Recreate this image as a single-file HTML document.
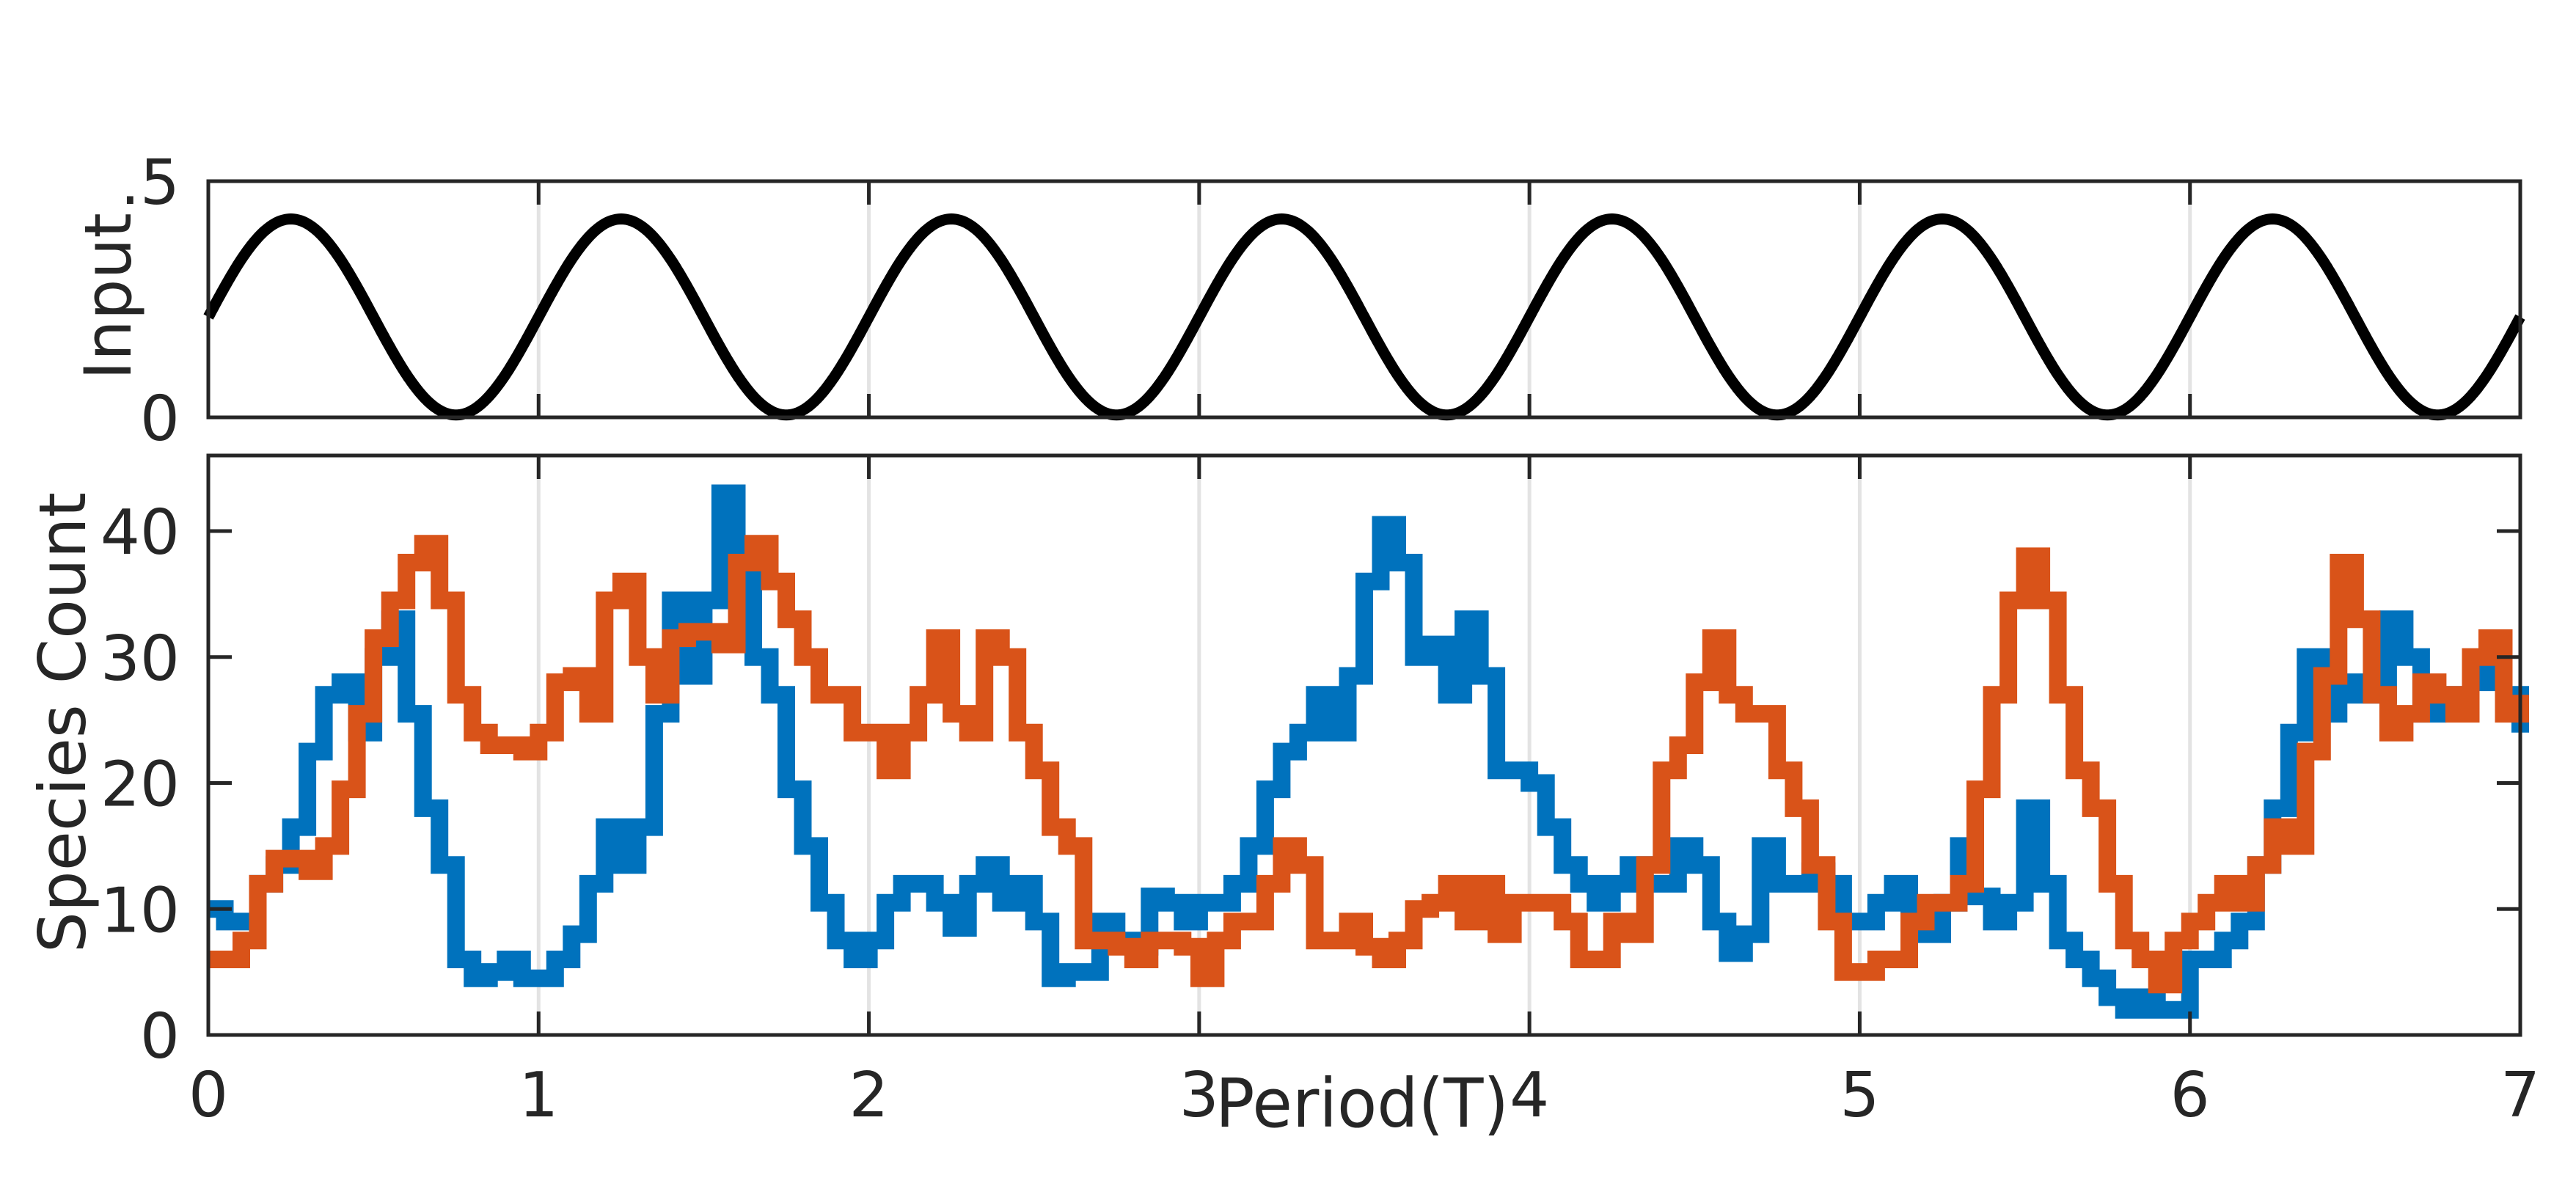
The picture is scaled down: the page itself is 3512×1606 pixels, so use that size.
<!DOCTYPE html>
<html><head><meta charset="utf-8"><style>
html,body{margin:0;padding:0;background:#fff;}
svg{display:block;font-family:"DejaVu Sans","Liberation Sans",sans-serif;}
</style></head><body>
<svg id="fig" width="3512" height="1606" viewBox="0 0 3512 1606">
<rect width="3512" height="1606" fill="#fff"/>
<g id="topPanel"></g>
<g id="botPanel"></g>
<text x="178" y="404" font-size="88" fill="#262626" text-anchor="middle" transform="rotate(-90 178 404)">Input</text>
<text x="116" y="985" font-size="88" fill="#262626" text-anchor="middle" transform="rotate(-90 116 985)">Species Count</text>
<text x="1857" y="1536" font-size="92" fill="#262626" text-anchor="middle" textLength="400" lengthAdjust="spacingAndGlyphs">Period(T)</text>
</svg>
<script>
const xTicks=[0,1,2,3,4,5,6,7];
const xTickLabels=["0","1","2","3","4","5","6","7"];
const botYTicks=[0,10,20,30,40];
const botYTickLabels=["0","10","20","30","40"];
const topYTicks=[0,0.5];
const topYTickLabels=["0",".5"];
const inputOffset=0.2125;
const inputAmplitude=0.2075;
const inputPeriods=7;
const sampleStep=0.05;
const blueCounts=[10,9,9,12,13.5,16.5,22.5,27,28,24,30,33,25.5,18,13.5,6,4.5,5,6,4.5,
4.5,6,8,12,16.5,13.5,16.5,25.5,34.5,28.5,34.5,43,37.5,30,27,19.5,15,10.5,7.5,6,
7.5,10.5,12,12,10.5,8.5,12,13.5,10.5,12,9,4.5,5,5,9,7.5,7,11,10.5,9,
10.5,10.5,12,15,19.5,22.5,24,27,24,28.5,36,40.5,37.5,30,31,27,33,28.5,21,21,
20,16.5,13.5,12,10.5,12,13.5,12,12,15,13.5,9,6.5,8,15,12,12,13,12,9,
9,10.5,12,9,8,10.5,15,11,9,10.5,18,12,7.5,6,4.5,3,2,3,2,2,
6,6,7.5,9,13.5,18,24,30,25.5,28,27,27,33,30,25.5,27,27,28,31.5,27,24];
const orangeCounts=[6,6,7.5,12,14,14,13,15,19.5,25.5,31.5,34.5,37.5,39,34.5,27,24,23,23,22.5,
24,28,28.5,25.5,34.5,36,30,27,31.5,32,32,31,37.5,39,36,33,30,27,27,24,
24,21,24,27,31.5,25.5,24,31.5,30,24,21,16.5,15,7.5,7.5,7,6,7.5,7.5,7,
4.5,7.5,9,9,12,15,13.5,7.5,7.5,9,7,6,7.5,10,10.5,12,9,12,8,10.5,
10.5,10.5,9,6,6,9,8,13.5,21,23,28,31.5,27,25.5,25.5,21,18,13.5,9,5,
5,6,6,9,10.5,10.5,12,19.5,27,34.5,38,34.5,27,21,18,12,7.5,6,4,7.5,
9,10.5,12,10.5,13.5,16.5,15,22.5,28.5,37.5,33,27,24,25.5,28,27,25.5,30,31.5,25.5,27];

const NS='http://www.w3.org/2000/svg';
const L=284,R=3436;
const TT=247,TB=569,BT=621,BB=1411;
const xMax=7,topYMax=0.5,botYMax=46;
function xs(t){return L+(R-L)*t/xMax;}
function yTop(v){return TB-(TB-TT)*v/topYMax;}
function yBot(v){return BB-(BB-BT)*v/botYMax;}
function mk(tag,attrs,parent){const e=document.createElementNS(NS,tag);for(const k in attrs)e.setAttribute(k,attrs[k]);parent.appendChild(e);return e;}

function grid(g,T,B,prefix){
  xTicks.forEach((t,i)=>{
    if(t>0&&t<xMax){
      const gl=mk('line',{x1:xs(t),x2:xs(t),y1:T,y2:B,stroke:'#e3e3e3','stroke-width':5},g);
      
      
    }
  });
}
function frame(g,T,B,yfn,yt,ytl,prefix,showX){
  const ax=mk('rect',{x:L,y:T,width:R-L,height:B-T,fill:'none',stroke:'#262626','stroke-width':5},g);
  
  
  xTicks.forEach((t,i)=>{
    const a=mk('line',{x1:xs(t),x2:xs(t),y1:B,y2:B-32,stroke:'#262626','stroke-width':5},g);
    
    
    const b=mk('line',{x1:xs(t),x2:xs(t),y1:T,y2:T+32,stroke:'#262626','stroke-width':5},g);
    
    
    if(showX){
      const tx=mk('text',{x:xs(t),y:1522,'font-size':85,fill:'#262626','text-anchor':'middle'},g);
      tx.textContent=xTickLabels[i];
      
      
    }
  });
  yt.forEach((v,i)=>{
    const a=mk('line',{x1:L,x2:L+32,y1:yfn(v),y2:yfn(v),stroke:'#262626','stroke-width':5},g);
    
    
    const b=mk('line',{x1:R,x2:R-32,y1:yfn(v),y2:yfn(v),stroke:'#262626','stroke-width':5},g);
    
    
    const tx=mk('text',{x:245,y:yfn(v)+31,'font-size':85,fill:'#262626','text-anchor':'end'},g);
    tx.textContent=ytl[i];
    
    
  });
}

const topG=document.getElementById('topPanel');
const botG=document.getElementById('botPanel');
grid(topG,TT,TB,'input');
grid(botG,BT,BB,'species');

let sineD='';
const sineN=1400;
for(let k=0;k<=sineN;k++){
  const t=xMax*k/sineN;
  const v=inputOffset+inputAmplitude*Math.sin(2*Math.PI*t*inputPeriods/xMax);
  sineD+=(k?'L':'M')+xs(t).toFixed(1)+' '+yTop(v).toFixed(1);
}
const sine=mk('path',{d:sineD,fill:'none',stroke:'#000','stroke-width':15},topG);



function stairs(vals,color,name){
  let p='';
  vals.forEach((v,i)=>{
    const t0=i*sampleStep, t1=Math.min((i+1)*sampleStep,xMax);
    p+=(i?'L':'M')+xs(t0).toFixed(1)+' '+yBot(v).toFixed(1)+'L'+xs(t1).toFixed(1)+' '+yBot(v).toFixed(1);
  });
  const e=mk('path',{d:p,fill:'none',stroke:color,'stroke-width':24,'stroke-linejoin':'miter'},botG);
  
  
}
stairs(blueCounts,'#0072BD','species-a-line');
stairs(orangeCounts,'#D95319','species-b-line');

frame(topG,TT,TB,yTop,topYTicks,topYTickLabels,'input',false);
frame(botG,BT,BB,yBot,botYTicks,botYTickLabels,'species',true);
</script>
</body></html>
